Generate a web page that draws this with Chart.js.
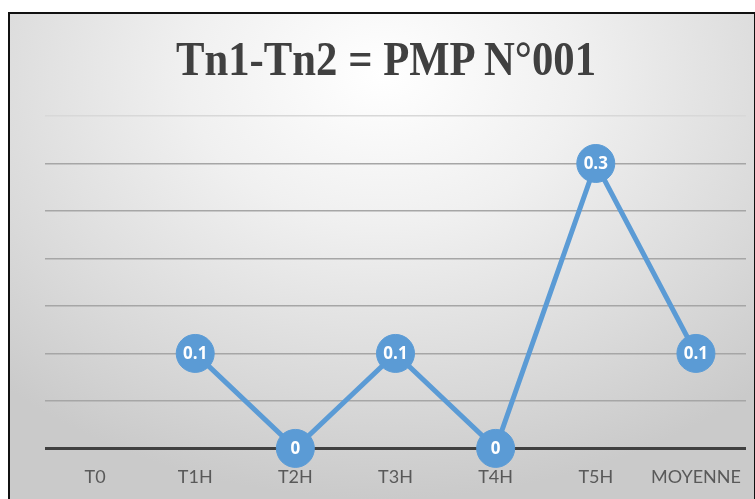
<!DOCTYPE html>
<html lang="fr">
<head>
    <meta charset="UTF-8">
    <title>Tn1-Tn2 = PMP N°001</title>
    <script src="https://cdn.jsdelivr.net/npm/chart.js"></script>
    <style>
        body {
            margin: 0;
            padding: 0;
            background: #ffffff;
            overflow: hidden;
        }

        .frame {
            position: absolute;
            left: 8px;
            top: 12px;
            width: 744px;
            height: 500px;
            border: 2px solid #111;
            overflow: hidden;
            background: radial-gradient(ellipse 75% 85% at 50% 12%, #ffffff 0%, #f0f0f0 35%, #d9d9d9 75%, #cacaca 100%);
        }

        .chart-title {
            position: absolute;
            left: 386px;
            top: 35px;
            transform: translateX(-50%) scaleX(0.89);
            font-family: 'Liberation Serif', serif;
            font-weight: bold;
            font-size: 48px;
            line-height: 48px;
            color: #404040;
            white-space: nowrap;
        }

        canvas {
            position: absolute;
            left: 0;
            top: 0;
        }
    </style>
</head>
<body>
    <div class="frame">
        <canvas id="myChart" width="760" height="500"></canvas>
    </div>
    <div class="chart-title">Tn1-Tn2 = PMP N°001</div>

    <script>
        const categories = ['T0', 'T1H', 'T2H', 'T3H', 'T4H', 'T5H', 'MOYENNE'];
        const values = [null, 0.1, 0, 0.1, 0, 0.3, 0.1];
        const valueLabels = ['', '0.1', '0', '0.1', '0', '0.3', '0.1'];

        const blue = '#5B9BD5';

        // small plugin to write the value inside each point
        const pointLabels = {
            id: 'pointLabels',
            afterDatasetsDraw(chart) {
                const ctx = chart.ctx;
                const meta = chart.getDatasetMeta(0);
                ctx.save();
                ctx.fillStyle = '#ffffff';
                ctx.font = 'bold 17px "Open Sans", sans-serif';
                ctx.textAlign = 'center';
                ctx.textBaseline = 'middle';
                meta.data.forEach((pt, i) => {
                    if (values[i] === null) return;
                    ctx.fillText(valueLabels[i], pt.x, pt.y + 1);
                });
                ctx.restore();
            }
        };

        const ctx = document.getElementById('myChart').getContext('2d');
        new Chart(ctx, {
            type: 'line',
            data: {
                labels: categories,
                datasets: [{
                    data: values,
                    borderColor: blue,
                    borderWidth: 5,
                    pointRadius: 19,
                    pointHoverRadius: 19,
                    pointBackgroundColor: blue,
                    pointBorderColor: blue,
                    pointBorderWidth: 1,
                    tension: 0,
                    spanGaps: false,
                    clip: false
                }]
            },
            options: {
                responsive: false,
                animation: false,
                layout: {
                    autoPadding: false,
                    padding: { top: 102, left: 35, right: 24, bottom: 8 }
                },
                plugins: {
                    legend: { display: false },
                    tooltip: { enabled: false },
                    title: { display: false }
                },
                scales: {
                    x: {
                        offset: true,
                        grid: { display: false, drawTicks: false },
                        border: { display: false },
                        ticks: {
                            color: '#595959',
                            font: { family: 'Lato, sans-serif', size: 18 },
                            padding: 18
                        }
                    },
                    y: {
                        min: 0,
                        max: 0.35,
                        ticks: { display: false, stepSize: 0.05 },
                        border: { display: false },
                        grid: {
                            drawTicks: false,
                            color: (c) => c.tick.value === 0 ? '#404040' : (c.tick.value > 0.34 ? '#d8d8d8' : '#a6a6a6'),
                            lineWidth: (c) => c.tick.value === 0 ? 3 : 1.5
                        }
                    }
                }
            },
            plugins: [pointLabels]
        });
    </script>
</body>
</html>
